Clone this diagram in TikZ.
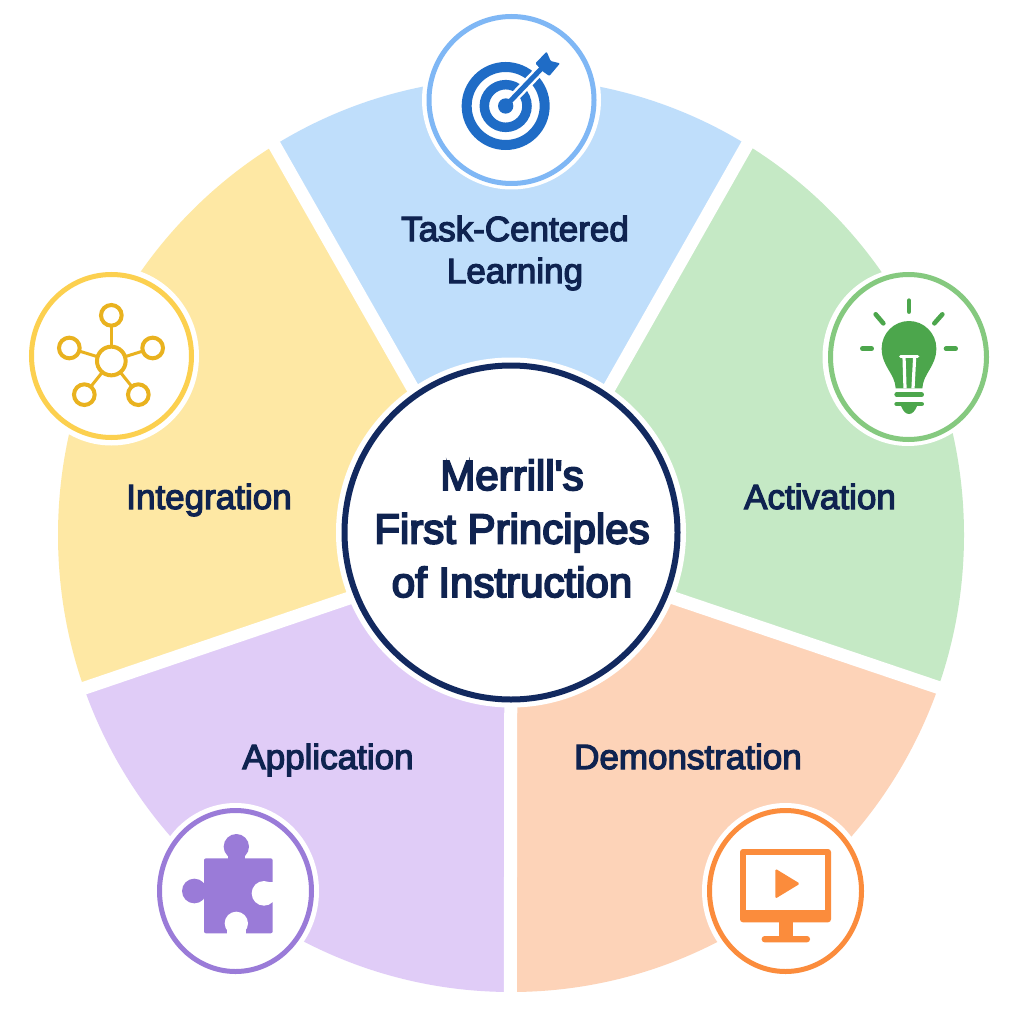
\documentclass[tikz,border=0pt]{standalone}
\usepackage{fontspec}
\usetikzlibrary{shapes.geometric}
\newfontfamily\labfont{Liberation Sans}[FakeBold=3.5]
\newfontfamily\titfont{Liberation Sans}[FakeBold=4.5]
\definecolor{navy}{HTML}{0F2350}
\definecolor{ringnavy}{HTML}{12295F}
\definecolor{secB}{HTML}{BFDEFB}
\definecolor{secG}{HTML}{C5E9C5}
\definecolor{secO}{HTML}{FDD3B8}
\definecolor{secP}{HTML}{E0CCF7}
\definecolor{secY}{HTML}{FEE8A4}
\definecolor{rngB}{HTML}{7FB7F5}
\definecolor{rngG}{HTML}{85C97F}
\definecolor{rngO}{HTML}{FB8C3C}
\definecolor{rngP}{HTML}{9A7BD8}
\definecolor{rngY}{HTML}{FCD04F}
\definecolor{icoB}{HTML}{1F6CC6}
\definecolor{icoG}{HTML}{4CA64C}
\definecolor{icoY}{HTML}{E9B21F}
\tikzset{
  gapline/.style={draw=white,line width=13pt},
  halo/.style={shape=ellipse,fill=white,inner sep=0pt,outer sep=0pt},
  ring/.style={shape=ellipse,draw=#1,fill=white,line width=5pt,inner sep=0pt,outer sep=0pt},
  seclabel/.style={text=navy,font=\labfont\fontsize{35}{42}\selectfont,align=center,inner sep=0pt},
  titlelabel/.style={text=navy,font=\titfont\fontsize{42}{53.5}\selectfont,align=center,inner sep=0pt},
  satnode/.style={draw=icoY,fill=white,line width=4pt},
  spoke/.style={draw=icoY,line width=3pt}
}
\begin{document}
\begin{tikzpicture}[x=1pt,y=-1pt]
\useasboundingbox (0,0) rectangle (1024,1024);
\fill[white] (0,0) rectangle (1024,1024);
% junction points (hidden under the centre disc) and far ends of the gaps
\coordinate (apexT) at (511,561);
\coordinate (apexS) at (511,543);
\coordinate (farTL) at (135,-100);
\coordinate (farTR) at (886,-100);
\coordinate (farR) at (1200,776);
\coordinate (farL) at (-180,778);
\coordinate (farB) at (510,1200);
\begin{scope}
\clip (511,535) ellipse [x radius=453,y radius=457];
\fill[secB] (apexT) -- (farTL) -- (farTR) -- cycle;
\fill[secG] (apexT) -- (farTR) -- (1200,-100) -- (farR) -- (apexS) -- cycle;
\fill[secO] (apexS) -- (farR) -- (1200,1200) -- (farB) -- (510,543) -- cycle;
\fill[secP] (apexS) -- (farB) -- (-180,1200) -- (farL) -- cycle;
\fill[secY] (apexS) -- (farL) -- (-180,-100) -- (farTL) -- (apexT) -- cycle;
\end{scope}
\draw[gapline] (apexT) -- (farTL);
\draw[gapline] (apexT) -- (farTR);
\draw[gapline] (apexS) -- (farL);
\draw[gapline] (apexS) -- (farR);
\draw[gapline] (apexS) -- (farB);
% centre
\node[halo,minimum width=350pt,minimum height=350pt] (chalo) at (511,532.5) {};
\node[ring=ringnavy,line width=6pt,minimum width=333pt,minimum height=334pt] (cring) at (511,532.5) {};
\node[titlelabel] (title) at (512,528.5) {Merrill's\\First Principles\\of Instruction};
% labels
\node[seclabel] (ltask) at (515,253) {Task-Centered\\Learning};
\node[seclabel,anchor=base] (lint) at (209,509) {Integration};
\node[seclabel,anchor=base] (lact) at (820,509) {Activation};
\node[seclabel,anchor=base] (lapp) at (328,769) {Application};
\node[seclabel,anchor=base] (ldem) at (688,769) {Demonstration};
% icon discs
\node[halo,minimum width=179pt,minimum height=179pt] (hT) at (511.5,100) {};
\node[ring=rngB,minimum width=165pt,minimum height=167pt] (rT) at (511.5,100) {};
\node[halo,minimum width=171pt,minimum height=178pt] (hG) at (908,357) {};
\node[ring=rngG,minimum width=156pt,minimum height=165pt] (rG) at (908.5,357) {};
\node[halo,minimum width=167pt,minimum height=176pt] (hO) at (785.5,891) {};
\node[ring=rngO,minimum width=152pt,minimum height=161pt] (rO) at (785.5,891) {};
\node[halo,minimum width=167pt,minimum height=176pt] (hP) at (235.5,891) {};
\node[ring=rngP,minimum width=152pt,minimum height=161pt] (rP) at (235.5,891) {};
\node[halo,minimum width=175pt,minimum height=179pt] (hY) at (111.5,356) {};
\node[ring=rngY,minimum width=160pt,minimum height=163pt] (rY) at (111.5,356) {};
% target icon
\begin{scope}[shift={(410,0)},scale=1/3]
\draw[icoB,line width=10pt] (287,318) circle [radius=117];
\draw[icoB,line width=9.5pt] (287,318) circle [radius=64];
\draw[white,line width=10pt] (287,318) -- (395,205);
\fill[icoB] (287,318) circle [radius=23];
\draw[icoB,line width=5pt] (287,318) -- (395,205);
\fill[icoB,rounded corners=1pt] (376,190) -- (410,155) -- (422,183) -- (450,190) -- (418,228) -- (398,214) -- cycle;
\end{scope}
% bulb icon
\begin{scope}[shift={(810,260)},scale=1/3,icoG]
\draw[line width=4.6pt,line cap=round] (297,122) -- (297,155);
\draw[line width=4.6pt,line cap=round] (197,163) -- (220,190);
\draw[line width=4.6pt,line cap=round] (397,163) -- (373,190);
\draw[line width=4.6pt,line cap=round] (157,266) -- (185,266);
\draw[line width=4.6pt,line cap=round] (408,266) -- (437,266);
\fill (257,385) .. controls (255,340) and (215,320) .. (215,265)
  .. controls (215,220) and (252,183) .. (297,183)
  .. controls (342,183) and (379,220) .. (379,265)
  .. controls (379,320) and (339,340) .. (337,385) -- cycle;
\draw[white,line width=3.2pt,line cap=round] (272,290) -- (323,290);
\draw[white,line width=3.2pt] (282,290) -- (285,385);
\draw[white,line width=3.2pt] (314,290) -- (309,385);
\draw[line width=4.6pt,line cap=round] (260,404) -- (335,404);
\draw[line width=4.6pt,line cap=round] (260,432) -- (335,432);
\fill (273,438) .. controls (280,455) and (288,462) .. (297,462) .. controls (306,462) and (314,455) .. (321,438) -- cycle;
\end{scope}
% monitor icon
\begin{scope}[shift={(690,790)},scale=1/3]
\fill[rngO,rounded corners=3pt] (150,177) rectangle (423,397);
\fill[white] (168,195) rectangle (405,360);
\fill[rngO,rounded corners=1.5pt] (256,236) -- (330,281) -- (256,326) -- cycle;
\fill[rngO] (268,390) rectangle (310,445);
\fill[rngO,rounded corners=3pt] (215,438) rectangle (360,457);
\end{scope}
% puzzle icon
\begin{scope}[shift={(140,790)},scale=1/3]
\fill[rngP,rounded corners=2pt] (192,205) rectangle (398,430);
\fill[rngP] (289,170) circle [radius=38];
\fill[rngP] (265,190) rectangle (315,210);
\fill[rngP] (163,303) circle [radius=37];
\fill[rngP] (180,280) rectangle (200,325);
\fill[white] (372,310) circle [radius=37];
\fill[white] (385,277) rectangle (402,335);
\fill[white] (289,400) circle [radius=35];
\fill[white] (262,415) rectangle (318,434);
\end{scope}
% network icon
\begin{scope}[shift={(15,260)},scale=1/3]
\coordinate (nc) at (289,303);
\coordinate (n1) at (289,166);
\coordinate (n2) at (163,264);
\coordinate (n3) at (413,264);
\coordinate (n4) at (208,404);
\coordinate (n5) at (370,404);
\foreach \k in {1,...,5} {\draw[spoke] (nc) -- (n\k);}
\foreach \k in {1,...,5} {\draw[satnode] (n\k) circle [radius=31];}
\draw[satnode] (nc) circle [radius=43];
\end{scope}
\end{tikzpicture}
\end{document}
